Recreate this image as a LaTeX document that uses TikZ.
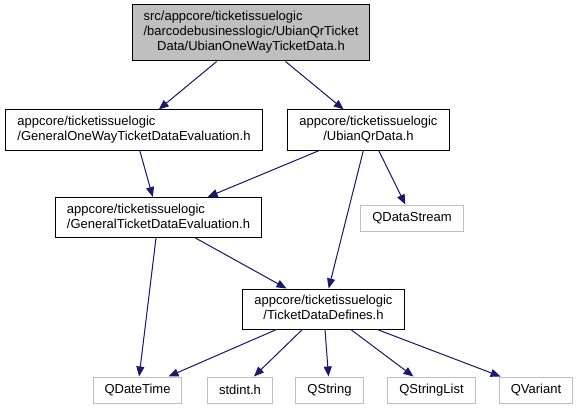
\documentclass[tikz,border=0pt]{standalone}
\usepackage{fontspec}
\setmainfont{Liberation Sans}
\usepackage{xcolor}
\usepackage{tikz}
\usetikzlibrary{arrows.meta}
\definecolor{edgeblue}{HTML}{191970}
\definecolor{extgray}{HTML}{BFBFBF}

\newcommand{\twolines}[2]{\begin{tabular}{@{}l@{}}#1\\\multicolumn{1}{@{}c@{}}{#2}\end{tabular}}
\newcommand{\threelines}[3]{\begin{tabular}{@{}l@{}}#1\\#2\\\multicolumn{1}{@{}c@{}}{#3}\end{tabular}}

\tikzset{
  filebox/.style={draw=black, line width=1pt, inner xsep=11.5pt, inner ysep=0pt,
    font=\fontsize{13}{15}\selectfont},
  extbox/.style={filebox, draw=extgray, minimum height=26pt},
  incedge/.style={draw=edgeblue, line width=1pt, -{Triangle[length=10pt,width=8pt]}, fill=edgeblue}
}

\begin{document}
\begin{tikzpicture}[x=1pt, y=-1pt]
  \useasboundingbox (0,0) rectangle (578,409);
  % the file itself
  \node[filebox, fill=extgray, minimum height=56pt] (ubianOneWay) at (251,33)
    {\threelines{src/appcore/ticketissuelogic}{/barcodebusinesslogic/UbianQrTicket}{Data/UbianOneWayTicketData.h}};
  % project headers
  \node[filebox, minimum height=40pt] (genOneWay) at (134,130)
    {\twolines{appcore/ticketissuelogic}{/GeneralOneWayTicketDataEvaluation.h}};
  \node[filebox, minimum height=40pt] (ubianQr) at (368.5,130)
    {\twolines{appcore/ticketissuelogic}{/UbianQrData.h}};
  \node[filebox, minimum height=40pt] (genTicket) at (158.5,217.5)
    {\twolines{appcore/ticketissuelogic}{/GeneralTicketDataEvaluation.h}};
  \node[filebox, minimum height=40pt] (ticketDefines) at (323.5,309)
    {\twolines{appcore/ticketissuelogic}{/TicketDataDefines.h}};
  % system / Qt headers
  \node[extbox] (qDataStream) at (412,218) {QDataStream};
  \node[extbox] (qDateTime) at (137.5,390) {QDateTime};
  \node[extbox] (stdint) at (240,390) {stdint.h};
  \node[extbox] (qString) at (329.5,390) {QString};
  \node[extbox] (qStringList) at (431.5,390) {QStringList};
  \node[extbox] (qVariant) at (536,390) {QVariant};

  \draw[incedge] (ubianOneWay) -- (genOneWay);
  \draw[incedge] (ubianOneWay) -- (ubianQr);
  \draw[incedge] (genOneWay) -- (genTicket);
  \draw[incedge] (ubianQr) -- (genTicket);
  \draw[incedge] (ubianQr) -- (qDataStream);
  \draw[incedge] (ubianQr) -- (ticketDefines);
  \draw[incedge] (genTicket) -- (ticketDefines);
  \draw[incedge] (genTicket) -- (qDateTime);
  \draw[incedge] (ticketDefines) -- (qDateTime);
  \draw[incedge] (ticketDefines) -- (stdint);
  \draw[incedge] (ticketDefines) -- (qString);
  \draw[incedge] (ticketDefines) -- (qStringList);
  \draw[incedge] (ticketDefines) -- (qVariant);
\end{tikzpicture}
\end{document}
